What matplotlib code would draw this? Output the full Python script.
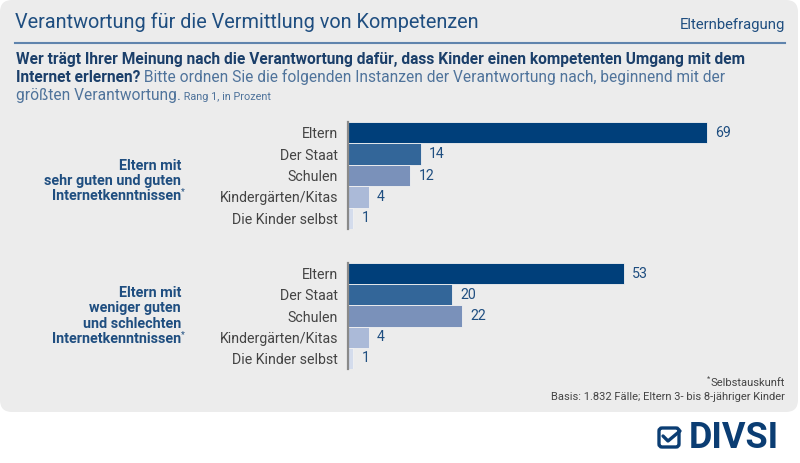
import matplotlib
matplotlib.use('Agg')
import matplotlib.pyplot as plt
from matplotlib.patches import FancyBboxPatch

plt.rcParams['font.family'] = ['Roboto', 'DejaVu Sans']

# Daten
categories = ['Eltern', 'Der Staat', 'Schulen', 'Kindergärten/Kitas', 'Die Kinder selbst']
gut_values = [69, 14, 12, 4, 1]
schlecht_values = [53, 20, 22, 4, 1]
group_labels = [
    ['Eltern mit', 'sehr guten und guten', 'Internetkenntnissen'],
    ['Eltern mit', 'weniger guten', 'und schlechten', 'Internetkenntnissen'],
]
bar_colors = ['#003f7a', '#336699', '#7a91ba', '#abbad8', '#d4dcec']

title = 'Verantwortung für die Vermittlung von Kompetenzen'
tag = 'Elternbefragung'
footnotes = ['Selbstauskunft', 'Basis: 1.832 Fälle; Eltern 3- bis 8-jähriger Kinder']

W, H = 800, 463
BG = '#ececec'
DARK = '#1b3f6a'
BLUE = '#1f4e80'
LIGHT = '#4f739b'
GREY = '#444444'

fig = plt.figure(figsize=(W / 100, H / 100), dpi=100)
fig.patch.set_facecolor('white')

# Hintergrund-Achse in Pixelkoordinaten
bg = fig.add_axes([0, 0, 1, 1])
bg.set_xlim(0, W)
bg.set_ylim(H, 0)
bg.axis('off')
bg.add_patch(FancyBboxPatch((0, 0), 798, 412, boxstyle='round,pad=0,rounding_size=12',
                            facecolor=BG, edgecolor='none'))

bg.text(15, 22, title, fontsize=14.3, color=BLUE, va='center', ha='left')
bg.text(785, 25, tag, fontsize=10.7, color=BLUE, va='center', ha='right')
bg.plot([15, 785], [43, 43], color='#5f84ad', lw=1.5)

# Frage (gemischt fett / normal)
renderer = fig.canvas.get_renderer()


def run_text(x, y, parts):
    for s, size, weight, color in parts:
        t = bg.text(x, y, s, fontsize=size, fontweight=weight, color=color, va='baseline', ha='left')
        bb = t.get_window_extent(renderer)
        x0 = bg.transData.inverted().transform((bb.x0, 0))[0]
        x1 = bg.transData.inverted().transform((bb.x1, 0))[0]
        x += x1 - x0


q_size = 11.2
run_text(16, 64, [('Wer trägt Ihrer Meinung nach die Verantwortung dafür, dass Kinder einen kompetenten Umgang mit dem',
                   q_size, 'bold', DARK)])
run_text(16, 82, [('Internet erlernen?', q_size, 'bold', DARK),
                  (' Bitte ordnen Sie die folgenden Instanzen der Verantwortung nach, beginnend mit der',
                   q_size, 'normal', LIGHT)])
run_text(16, 100, [('größten Verantwortung.', q_size, 'normal', LIGHT),
                   (' Rang 1, in Prozent', 7.8, 'normal', LIGHT)])

# Balkengruppen
px_per_unit = 5.2
axis_x = 348
ax_w = 420
groups = [(gut_values, 122, 229, 181), (schlecht_values, 263, 369, 316)]

for (values, top, bottom, lab_y), labels in zip(groups, group_labels):
    ax = fig.add_axes([axis_x / W, 1 - bottom / H, ax_w / W, (bottom - top) / H])
    ax.patch.set_alpha(0)
    y = list(range(len(categories)))
    bars = ax.barh(y, values, height=1.0, color=bar_colors, edgecolor='#f2f2f2', linewidth=0.6)
    ax.set_ylim(len(categories) - 0.5, -0.5)
    ax.set_xlim(0, ax_w / px_per_unit)
    ax.set_yticks(y)
    ax.set_yticklabels(categories, fontsize=10.2, color=GREY)
    ax.tick_params(axis='y', length=0, pad=7)
    ax.set_xticks([])
    for side in ['top', 'right', 'bottom']:
        ax.spines[side].set_visible(False)
    ax.spines['left'].set_color('#8a8a8a')
    ax.spines['left'].set_linewidth(1.6)
    ax.bar_label(bars, labels=[str(v) for v in values], padding=6, fontsize=10.2, color=BLUE)

    # Gruppenbeschriftung
    n = len(labels)
    line_h = 15.5
    y0 = lab_y - (n - 1) / 2 * line_h
    for i, s in enumerate(labels):
        yy = y0 + i * line_h
        bg.text(181, yy, s, fontsize=10.4, fontweight='bold', color=BLUE, ha='right', va='center')
    bg.text(181, yy - 5, '*', fontsize=6.5, color=BLUE, ha='left', va='center')

# Fußnoten
bg.text(785, 383, footnotes[0], fontsize=8, color=GREY, ha='right', va='center')
bg.text(785 - bg.texts[-1].get_window_extent(renderer).width, 379, '*', fontsize=5.5, color=GREY,
        ha='right', va='center')
bg.text(785, 397, footnotes[1], fontsize=8, color=GREY, ha='right', va='center')

# Logo
bg.add_patch(FancyBboxPatch((659, 428), 20, 19, boxstyle='round,pad=0,rounding_size=3',
                            facecolor='none', edgecolor='#0b3d73', lw=2.4))
bg.plot([663, 668, 680], [436, 441, 431], color='#0b3d73', lw=2.4, solid_capstyle='round')
bg.text(689, 438, 'DIVSI', fontsize=26, fontweight='bold', color='#0b3d73', ha='left', va='center')

fig.savefig('out.png', dpi=100, facecolor=fig.get_facecolor())
